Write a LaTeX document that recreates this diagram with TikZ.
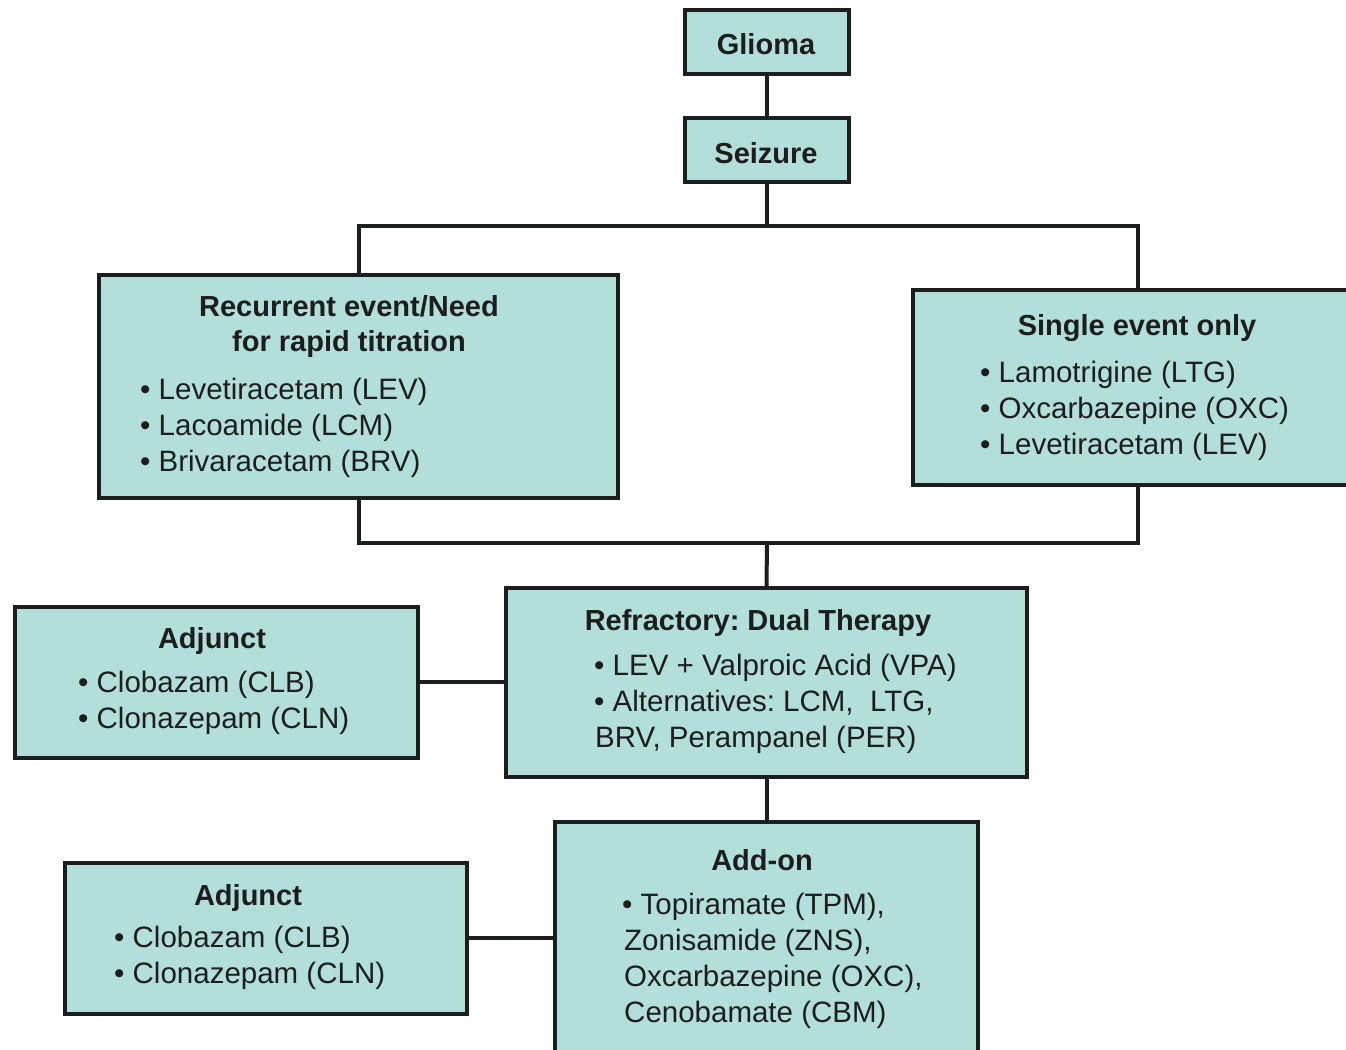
\documentclass[tikz,border=0pt]{standalone}
\usepackage{fontspec}
\setmainfont{Liberation Sans}
\definecolor{boxfill}{RGB}{179,223,219}
\definecolor{ink}{RGB}{28,30,30}
\tikzset{
  box/.style={draw=ink, line width=4pt, fill=boxfill, inner sep=0pt, rectangle},
  conn/.style={draw=ink, line width=4pt, line cap=rect},
  txt/.style={inner sep=0pt, text=ink, font=\fontsize{29.5}{36}\selectfont, anchor=base west},
  hd/.style={inner sep=0pt, text=ink, font=\fontsize{29}{36}\selectfont\bfseries, anchor=base}
}
\begin{document}
\frenchspacing
\begin{tikzpicture}[x=1pt,y=-1pt]
\useasboundingbox (0,0) rectangle (1346,1049);
\fill[white] (0,0) rectangle (1346,1049);
\begin{scope}
\clip (0,0) rectangle (1346,1049);
% boxes
\node[box, minimum width=164pt, minimum height=64pt] (glioma) at (767,42) {};
\node[box, minimum width=164pt, minimum height=64pt] (seizure) at (767,150) {};
\node[box, minimum width=519pt, minimum height=223pt] (recurrent) at (358.5,386.5) {};
\node[box, minimum width=450pt, minimum height=195pt] (single) at (1138,387.5) {};
\node[box, minimum width=521pt, minimum height=189pt] (refractory) at (766.5,682.5) {};
\node[box, minimum width=403pt, minimum height=151pt] (adj1) at (216.5,682) {};
\node[box, minimum width=423pt, minimum height=240pt] (addon) at (766.5,942) {};
\node[box, minimum width=402pt, minimum height=151pt] (adj2) at (266,938) {};
% connectors
\coordinate (top) at (767,226);
\coordinate (bot) at (767,543);
\draw[conn] (glioma.south) -- (seizure.north);
\draw[conn] (seizure.south) -- (top);
\draw[conn] (recurrent.north) -- (recurrent.north |- top) -- (single.north |- top) -- (single.north);
\draw[conn] (recurrent.south) -- (recurrent.south |- bot) -- (single.south |- bot) -- (single.south);
\draw[conn] (bot) -- (refractory.north);
\draw[conn] (adj1.east) -- (refractory.west |- adj1.east);
\draw[conn] (refractory.south) -- (addon.north);
\draw[conn] (adj2.east) -- (addon.west |- adj2.east);
% texts
\node[hd] (tg) at (766,55) {Glioma};
\node[hd] (ts) at (766,163) {Seizure};

\node[hd] (tr1) at (349,316) {Recurrent event/Need};
\node[hd] (tr2) at (349,351) {for rapid titration};
\node[txt] (tr3) at (140,399) {• Levetiracetam (LEV)};
\node[txt] (tr4) at (140,435) {• Lacoamide (LCM)};
\node[txt] (tr5) at (140,471) {• Brivaracetam (BRV)};

\node[hd] (ts1) at (1137,335) {Single event only};
\node[txt] (ts2) at (980,382) {• Lamotrigine (LTG)};
\node[txt] (ts3) at (980,418) {• Oxcarbazepine (OXC)};
\node[txt] (ts4) at (980,454) {• Levetiracetam (LEV)};

\node[hd] (tf1) at (758,630) {Refractory: Dual Therapy};
\node[txt] (tf2) at (594,675) {• LEV + Valproic Acid (VPA)};
\node[txt] (tf3) at (594,711) {• Alternatives: LCM,~ LTG,};
\node[txt] (tf4) at (595,747) {BRV, Perampanel (PER)};

\node[hd] (ta1) at (212,648) {Adjunct};
\node[txt] (ta2) at (78,692) {• Clobazam (CLB)};
\node[txt] (ta3) at (78,728) {• Clonazepam (CLN)};

\node[hd] (tad1) at (762,870) {Add-on};
\node[txt] (tad2) at (622,914) {• Topiramate (TPM),};
\node[txt] (tad3) at (624,950) {Zonisamide (ZNS),};
\node[txt] (tad4) at (624,986) {Oxcarbazepine (OXC),};
\node[txt] (tad5) at (624,1022) {Cenobamate (CBM)};

\node[hd] (tb1) at (248,905) {Adjunct};
\node[txt] (tb2) at (114,947) {• Clobazam (CLB)};
\node[txt] (tb3) at (114,983) {• Clonazepam (CLN)};
\end{scope}
\end{tikzpicture}
\end{document}
